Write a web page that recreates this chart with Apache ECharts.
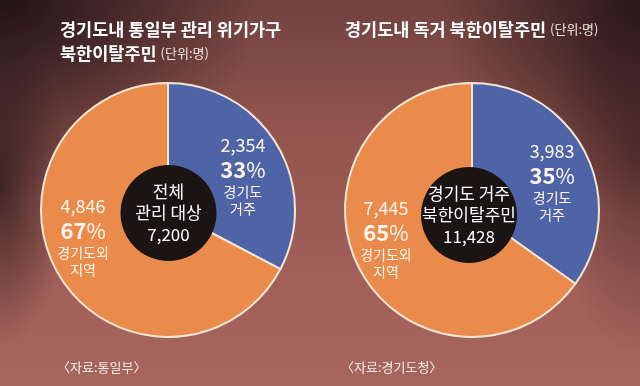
<!DOCTYPE html>
<html>
<head>
<meta charset="utf-8">
<script src="https://cdn.jsdelivr.net/npm/echarts@6/dist/echarts.min.js"></script>
<style>
html,body{margin:0;padding:0;}
#chart{width:640px;height:386px;
background:
 radial-gradient(ellipse 260px 200px at 0% 0%, rgba(28,16,20,0.95) 0%, rgba(28,16,20,0) 100%),
 radial-gradient(ellipse 200px 220px at 100% 0%, rgba(35,18,22,0.9) 0%, rgba(35,18,22,0) 100%),
 radial-gradient(ellipse 70px 160px at 0% 48%, rgba(45,24,28,0.8) 0%, rgba(45,24,28,0) 100%),
 radial-gradient(ellipse 90px 200px at 100% 40%, rgba(60,30,34,0.6) 0%, rgba(60,30,34,0) 100%),
 linear-gradient(180deg, #714240 0%, #93554f 35%, #a05f59 70%, #a6655f 100%);
}
</style>
</head>
<body>
<div id="chart"></div>
<script>
// ---- data ----
var leftCategories = ['경기도 거주', '경기도외 지역'];
var leftValues = [2354, 4846];
var leftTotal = 7200;
var rightCategories = ['경기도 거주', '경기도외 지역'];
var rightValues = [3983, 7445];
var rightTotal = 11428;
var sliceLabels = [['경기도', '거주'], ['경기도외', '지역']];
var leftTitle = ['경기도내 통일부 관리 위기가구', '북한이탈주민'];
var rightTitle = '경기도내 독거 북한이탈주민';
var unitText = '(단위:명)';
var leftCenterText = ['전체', '관리 대상'];
var rightCenterText = ['경기도 거주', '북한이탈주민'];
var leftSource = '〈자료:통일부〉';
var rightSource = '〈자료:경기도청〉';

var FONT = '"Noto Sans CJK KR", "Noto Sans", sans-serif';
var BLUE = '#4f64a7';
var ORANGE = '#eb8b4b';
var TXT = '#fff7ee';

function fmt(n){ return n.toLocaleString('en-US'); }

function sliceSeries(cats, vals, center, offsets){
  return {
    type: 'pie',
    center: center,
    radius: [0, 127],
    startAngle: 90,
    clockwise: true,
    silent: true,
    itemStyle: {borderColor: '#f4e6d4', borderWidth: 2},
    data: cats.map(function(c, i){
      return {name: c, value: vals[i], itemStyle: {color: i === 0 ? BLUE : ORANGE}};
    }),
    label: {
      show: true,
      position: 'inside',
      color: TXT,
      fontFamily: FONT,
      align: 'center',
      formatter: function(p){
        var l = sliceLabels[p.dataIndex];
        return '{v|' + fmt(p.value) + '}\n{pn|' + Math.round(p.percent) + '}{ps|%}\n{t|' + l[0] + '}\n{t|' + l[1] + '}';
      },
      rich: {
        v: {fontSize: 18, lineHeight: 23, color: TXT, fontFamily: FONT},
        pn: {fontSize: 22, fontWeight: 'bold', lineHeight: 27, color: TXT, fontFamily: FONT},
        ps: {fontSize: 21, lineHeight: 27, color: TXT, fontFamily: FONT},
        t: {fontSize: 14, lineHeight: 17, color: TXT, fontFamily: FONT}
      }
    },
    labelLine: {show: false},
    labelLayout: function(p){ return offsets[p.dataIndex]; }
  };
}

function centerSeries(total, lines, center){
  return {
    type: 'pie',
    center: center,
    radius: [0, 48],
    silent: true,
    z: 5,
    data: [{value: total, name: lines.join(' ')}],
    itemStyle: {color: '#1a1415'},
    label: {
      show: true,
      position: 'center',
      fontFamily: FONT,
      formatter: function(p){
        return '{c|' + lines[0] + '}\n{c|' + lines[1] + '}\n{c|' + fmt(p.value) + '}';
      },
      rich: {c: {fontSize: 17, lineHeight: 21.5, color: '#ffffff', fontFamily: FONT}}
    },
    labelLine: {show: false}
  };
}

var chart = echarts.init(document.getElementById('chart'), null, {renderer: 'canvas'});
chart.setOption({
  backgroundColor: 'transparent',
  animation: false,
  title: [
    {
      left: 55, top: 12,
      text: leftTitle[0] + '\n' + leftTitle[1] + ' {u|' + unitText + '}',
      textStyle: {
        color: '#ffffff', fontSize: 17.5, fontWeight: 'bold', fontFamily: FONT, lineHeight: 24,
        rich: {u: {fontSize: 13, fontWeight: 'normal', color: '#f3e6e0', fontFamily: FONT, lineHeight: 24}}
      }
    },
    {
      left: 340, top: 12,
      text: rightTitle + ' {u|' + unitText + '}',
      textStyle: {
        color: '#ffffff', fontSize: 17.5, fontWeight: 'bold', fontFamily: FONT, lineHeight: 24,
        rich: {u: {fontSize: 13, fontWeight: 'normal', color: '#f3e6e0', fontFamily: FONT, lineHeight: 24}}
      }
    },
    {
      left: 52, top: 354, text: leftSource,
      textStyle: {color: '#f6ebe6', fontSize: 13, fontWeight: 'normal', fontFamily: FONT, lineHeight: 16}
    },
    {
      left: 336, top: 354, text: rightSource,
      textStyle: {color: '#f6ebe6', fontSize: 13, fontWeight: 'normal', fontFamily: FONT, lineHeight: 16}
    }
  ],
  series: [
    sliceSeries(leftCategories, leftValues, [168, 210], [{dx: 18, dy: 0}, {dx: -28, dy: -8}]),
    sliceSeries(rightCategories, rightValues, [472, 210], [{dx: 21, dy: 2}, {dx: -27, dy: -2}]),
    centerSeries(leftTotal, leftCenterText, [168.5, 213]),
    centerSeries(rightTotal, rightCenterText, [469, 215])
  ]
});
</script>
</body>
</html>
